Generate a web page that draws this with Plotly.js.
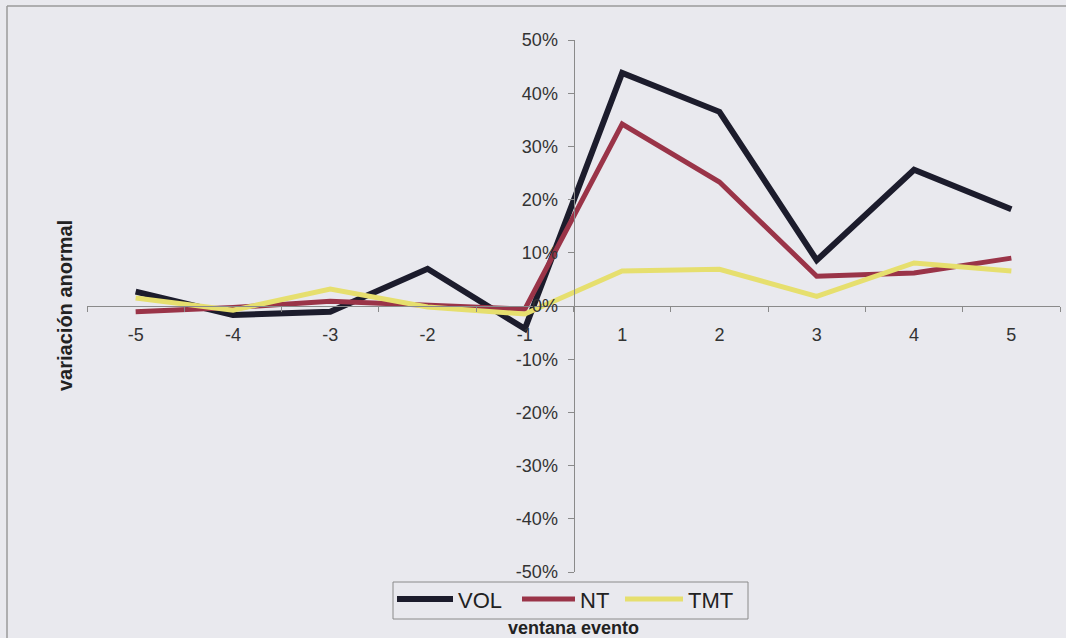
<!DOCTYPE html>
<html>
<head>
<meta charset="utf-8">
<script src="https://cdn.plot.ly/plotly-3.0.1.min.js"></script>
<style>
  html, body { margin: 0; padding: 0; background: #e9e9ee; }
  #chart { width: 1066px; height: 638px; }
</style>
</head>
<body>
<div id="chart"></div>
<script>
// Event window (days relative to the event) and abnormal variation per series
const ventana = ["-5", "-4", "-3", "-2", "-1", "1", "2", "3", "4", "5"];
const vol = [0.027, -0.017, -0.011, 0.070, -0.043, 0.438, 0.365, 0.086, 0.256, 0.182];
const nt  = [-0.011, -0.003, 0.009, 0.002, -0.006, 0.342, 0.233, 0.056, 0.062, 0.090];
const tmt = [0.015, -0.008, 0.032, -0.002, -0.015, 0.066, 0.069, 0.018, 0.081, 0.066];

// Percentage ticks on the vertical axis (hyphen-minus as in the source layout)
const yTickVals = [-0.5, -0.4, -0.3, -0.2, -0.1, 0, 0.1, 0.2, 0.3, 0.4, 0.5];
const yTickText = ["-50%", "-40%", "-30%", "-20%", "-10%", "0%", "10%", "20%", "30%", "40%", "50%"];

const seriesNames = ["VOL", "NT", "TMT"];
const seriesColors = ["#1c1c2c", "#9a3448", "#e6df6e"];
const seriesWidths = [6, 5, 5];
const seriesValues = [vol, nt, tmt];

const W = 1066, H = 638;
const M = { l: 87, r: 6, t: 40, b: 66 };
const plotW = W - M.l - M.r, plotH = H - M.t - M.b;
// pixel -> paper coordinate helpers for the frame and the legend box
const px = v => (v - M.l) / plotW;
const py = v => (H - M.b - v) / plotH;

const traces = seriesValues.map((vals, i) => ({
  type: "scatter",
  mode: "lines",
  name: seriesNames[i],
  x: ventana,
  y: vals,
  line: { color: seriesColors[i], width: seriesWidths[i] },
  hoverinfo: "x+y+name"
}));

// Legend drawn beneath the plot: bordered box, line samples and labels
const legendSamples = [
  { x0: 397, x1: 453, tx: 458 },
  { x0: 522, x1: 575, tx: 580 },
  { x0: 625, x1: 683, tx: 688 }
];
const legendY = 599;

const shapes = [
  // outer chart frame (top and left edges)
  { type: "line", xref: "paper", yref: "paper",
    x0: px(7), x1: px(1066), y0: py(6), y1: py(6),
    line: { color: "#9a9a9a", width: 1.5 } },
  { type: "line", xref: "paper", yref: "paper",
    x0: px(7), x1: px(7), y0: py(6), y1: py(640),
    line: { color: "#9a9a9a", width: 1.5 } },
  // legend box
  { type: "rect", xref: "paper", yref: "paper",
    x0: px(393), x1: px(748), y0: py(582), y1: py(619),
    fillcolor: "#e9e9ee", line: { color: "#8a8a8a", width: 1 } }
];
legendSamples.forEach((s, i) => {
  shapes.push({ type: "line", xref: "paper", yref: "paper",
    x0: px(s.x0), x1: px(s.x1), y0: py(legendY), y1: py(legendY),
    line: { color: seriesColors[i], width: seriesWidths[i] } });
});

const annotations = [
  { text: "<b>ventana evento</b>", xref: "paper", yref: "paper",
    x: 0.5, y: py(628), xanchor: "center", yanchor: "middle",
    showarrow: false, font: { size: 18, color: "#222222" } },
  { text: "<b>variación anormal</b>", xref: "paper", yref: "paper",
    x: px(65), y: 0.5, xanchor: "center", yanchor: "middle",
    textangle: -90, showarrow: false, font: { size: 20, color: "#222222" } }
];
legendSamples.forEach((s, i) => {
  annotations.push({ text: seriesNames[i], xref: "paper", yref: "paper",
    x: px(s.tx - 2), y: py(legendY + 1), xanchor: "left", yanchor: "middle",
    showarrow: false, font: { size: 22, color: "#222222" } });
});

const layout = {
  width: W,
  height: H,
  paper_bgcolor: "#e9e9ee",
  plot_bgcolor: "rgba(0,0,0,0)",
  margin: M,
  font: { family: "Liberation Sans, Arial, sans-serif", color: "#333333" },
  showlegend: false,
  xaxis: {
    type: "category",
    categoryorder: "array",
    categoryarray: ventana,
    range: [-0.5, 9.5],
    anchor: "free",
    position: 0.5,
    showline: true,
    linecolor: "#8a8a8a",
    linewidth: 1,
    showgrid: false,
    zeroline: false,
    ticks: "outside",
    tickson: "boundaries",
    ticklen: 5,
    tickcolor: "#8a8a8a",
    tickfont: { size: 18, color: "#333333" },
    ticklabelstandoff: 12,
    fixedrange: true
  },
  yaxis: {
    range: [-0.5, 0.5],
    tickmode: "array",
    tickvals: yTickVals,
    ticktext: yTickText,
    anchor: "free",
    position: 0.5,
    showline: true,
    linecolor: "#8a8a8a",
    linewidth: 1,
    showgrid: false,
    zeroline: false,
    ticks: "outside",
    ticklen: 6,
    tickcolor: "#8a8a8a",
    tickfont: { size: 18, color: "#333333" },
    ticklabelstandoff: 6,
    fixedrange: true
  },
  annotations: annotations,
  shapes: shapes
};

Plotly.newPlot("chart", traces, layout, { displayModeBar: false });
</script>
</body>
</html>
